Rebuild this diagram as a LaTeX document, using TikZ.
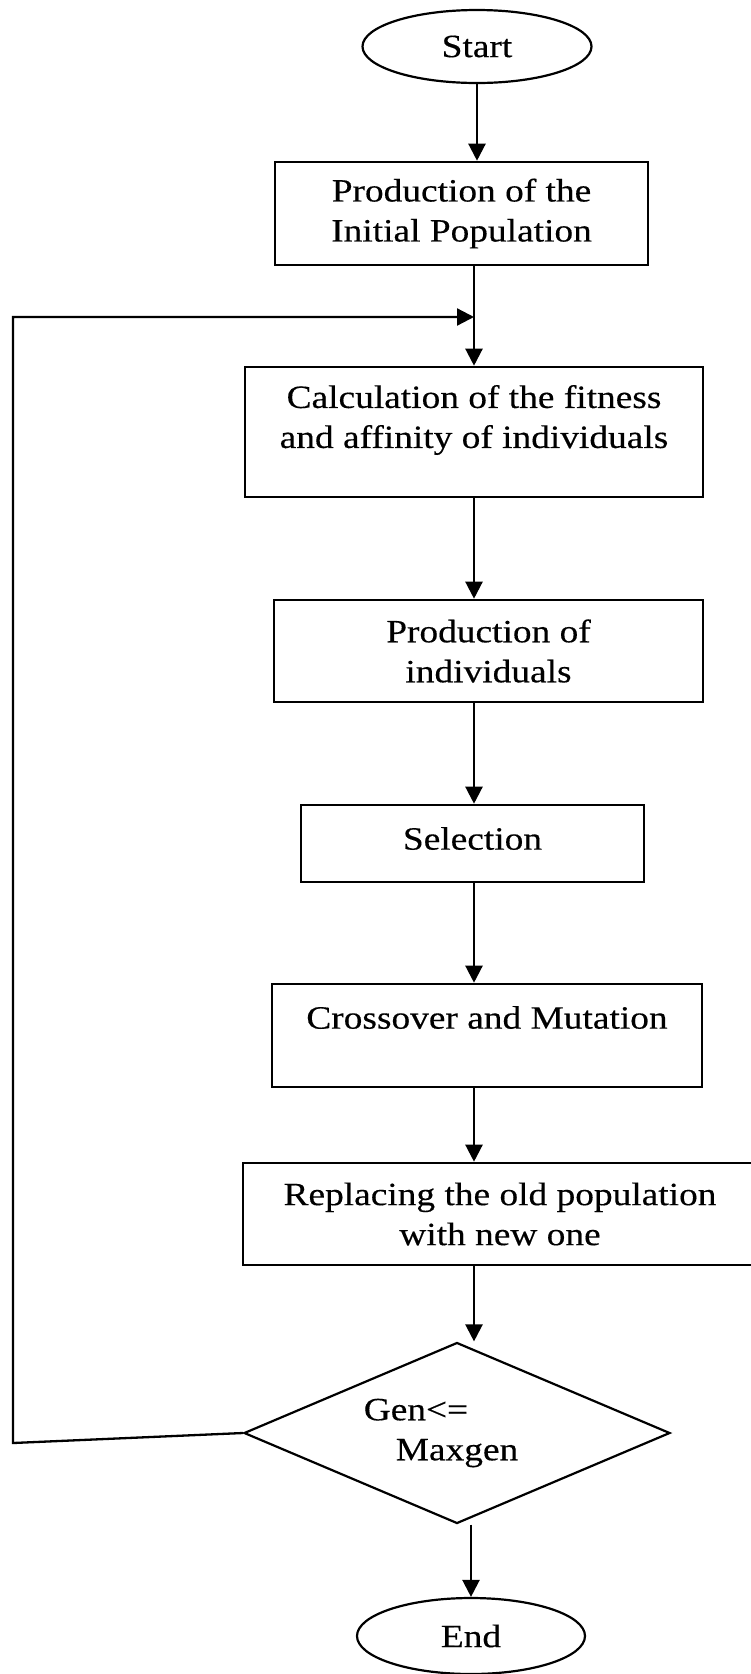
\documentclass[tikz,border=0pt]{standalone}
\usepackage{fontspec}
\setmainfont{Liberation Serif}[FakeStretch=1.15,FakeBold=0.35]
\usetikzlibrary{shapes.geometric,arrows.meta}
\begin{document}
\begin{tikzpicture}[x=1pt,y=-1pt,
  every node/.style={font=\fontsize{32.5}{40}\selectfont},
  stepbox/.style={draw,line width=2.6pt,rectangle,inner sep=0pt,align=center},
  term/.style={draw,line width=2.2pt,ellipse,inner sep=0pt},
  test/.style={draw,line width=2.2pt,diamond,inner sep=0pt,aspect=2.35,align=center},
  flow/.style={line width=2.3pt,-{Triangle[length=17pt,width=17pt]}},
  caption/.style={align=center}]
\useasboundingbox (0,0) rectangle (750,1674);
\coordinate (spine) at (474,0);

% terminals, process steps and the loop test
\node[term,minimum width=229pt,minimum height=73pt] (start) at (477,46.5) {Start};
\node[stepbox,minimum width=373pt,minimum height=103pt] (init) at (461.5,213.5) {Production of the\\Initial Population};
\node[stepbox,minimum width=458pt,minimum height=130pt] (fit) at (474,432) {};
\node[caption] at ([yshift=12pt]fit.center) {Calculation of the fitness\\and affinity of individuals};
\node[stepbox,minimum width=429pt,minimum height=102pt] (prod) at (488.5,651) {Production of\\individuals};
\node[stepbox,minimum width=343pt,minimum height=77pt] (sel) at (472.5,843.5) {};
\node at ([yshift=5pt]sel.center) {Selection};
\node[stepbox,minimum width=430pt,minimum height=103pt] (cross) at (487,1035.5) {};
\node at ([yshift=18pt]cross.center) {Crossover and Mutation};
\node[stepbox,minimum width=514pt,minimum height=102pt] (repl) at (500,1214) {Replacing the old population\\with new one};
\node[test,minimum width=426pt,minimum height=181pt] (gen) at (457,1433) {Gen<=\hspace*{82pt}\\Maxgen};
\node[term,minimum width=228pt,minimum height=76pt] (end) at (471,1636) {End};

% main flow
\draw[flow] (start.south) -- (start.south |- init.north);
\draw[flow] (init.south -| spine) -- (fit.north -| spine);
\draw[flow] (fit.south -| spine) -- (prod.north -| spine);
\draw[flow] (prod.south -| spine) -- (sel.north -| spine);
\draw[flow] (sel.south -| spine) -- (cross.north -| spine);
\draw[flow] (cross.south -| spine) -- (repl.north -| spine);
\draw[flow] (repl.south -| spine) -- (spine |- gen.north);
\draw[flow] (end.north |- gen.south) -- (end.north);

% loop back while Gen <= Maxgen
\coordinate (lb) at (13,1443);
\coordinate (lt) at (13,317);
\draw[flow] (gen.west) -- (lb) -- (lt) -- (lt -| spine);
\end{tikzpicture}
\end{document}
